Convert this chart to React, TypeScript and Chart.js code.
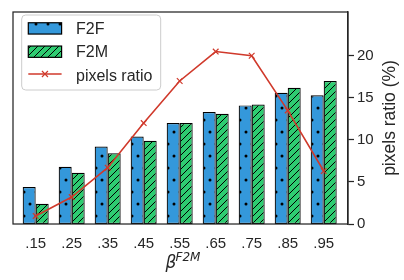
import React, { useEffect, useRef } from 'react';
import { Chart, registerables } from 'chart.js';

Chart.register(...registerables);

const categories = ['.15', '.25', '.35', '.45', '.55', '.65', '.75', '.85', '.95'];
const f2fValues = [4.4, 6.8, 9.2, 10.4, 12.0, 13.3, 14.1, 15.6, 15.3];
const f2mValues = [2.4, 6.1, 8.4, 9.9, 12.0, 13.1, 14.2, 16.2, 17.0];
const pixelsRatio = [0.96, 3.2, 6.7, 12.0, 17.0, 20.5, 20.0, 13.5, 6.3];
const rightTicks = [0, 5, 10, 15, 20];

const BLUE = '#3498db';
const GREEN = '#2ecc71';
const RED = '#d0392b';
const DARK = '#262626';
const FONT = "'Liberation Sans', Arial, sans-serif";
const MATH = "'DejaVu Sans', sans-serif";

function makeDots(ctx: CanvasRenderingContext2D): CanvasPattern {
  const c = document.createElement('canvas');
  c.width = 12;
  c.height = 24;
  const g = c.getContext('2d')!;
  g.fillStyle = BLUE;
  g.fillRect(0, 0, 12, 24);
  g.fillStyle = '#000';
  const pts = [[0, 0], [12, 0], [0, 24], [12, 24], [6, 12]];
  for (const [x, y] of pts) {
    g.beginPath();
    g.arc(x, y, 1.5, 0, Math.PI * 2);
    g.fill();
  }
  return ctx.createPattern(c, 'repeat')!;
}

function makeHatch(ctx: CanvasRenderingContext2D): CanvasPattern {
  const s = 7;
  const c = document.createElement('canvas');
  c.width = s;
  c.height = s;
  const g = c.getContext('2d')!;
  g.fillStyle = GREEN;
  g.fillRect(0, 0, s, s);
  g.strokeStyle = '#000';
  g.lineWidth = 1;
  g.beginPath();
  g.moveTo(-1, s + 1);
  g.lineTo(s + 1, -1);
  g.moveTo(-1, 1);
  g.lineTo(1, -1);
  g.moveTo(s - 1, s + 1);
  g.lineTo(s + 1, s - 1);
  g.stroke();
  return ctx.createPattern(c, 'repeat')!;
}

export default function App() {
  const ref = useRef<HTMLCanvasElement>(null);

  useEffect(() => {
    const canvas = ref.current!;
    const ctx = canvas.getContext('2d')!;
    const dotPat = makeDots(ctx);
    const hatchPat = makeHatch(ctx);

    const decorations = {
      id: 'decorations',
      afterDatasetsDraw(chart: any) {
        const { ctx: c, chartArea: a } = chart;
        c.save();
        c.strokeStyle = DARK;
        c.lineWidth = 1.25;
        c.strokeRect(a.left, a.top, a.right - a.left, a.bottom - a.top);
        c.restore();
      },
      afterDraw(chart: any) {
        const { ctx: c, chartArea: a } = chart;
        c.save();
        // legend box
        const lx = 21.7, ly = 15, lw = 139, lh = 75, r = 4;
        c.beginPath();
        c.moveTo(lx + r, ly);
        c.arcTo(lx + lw, ly, lx + lw, ly + lh, r);
        c.arcTo(lx + lw, ly + lh, lx, ly + lh, r);
        c.arcTo(lx, ly + lh, lx, ly, r);
        c.arcTo(lx, ly, lx + lw, ly, r);
        c.closePath();
        c.fillStyle = 'rgba(255,255,255,0.8)';
        c.fill();
        c.strokeStyle = '#cccccc';
        c.lineWidth = 1;
        c.stroke();
        const sx = 28.3, sw = 33.3, sh = 11.3;
        const rows = [28.4, 51.7, 74];
        // F2F swatch
        c.fillStyle = dotPat;
        c.fillRect(sx, rows[0] - sh / 2, sw, sh);
        c.strokeStyle = '#000';
        c.lineWidth = 1.2;
        c.strokeRect(sx, rows[0] - sh / 2, sw, sh);
        // F2M swatch
        c.fillStyle = hatchPat;
        c.fillRect(sx, rows[1] - sh / 2, sw, sh);
        c.strokeRect(sx, rows[1] - sh / 2, sw, sh);
        // line swatch
        c.strokeStyle = RED;
        c.lineWidth = 1.5;
        c.beginPath();
        c.moveTo(sx, rows[2]);
        c.lineTo(sx + sw, rows[2]);
        c.stroke();
        const mx = sx + sw / 2, m = 3;
        c.lineWidth = 1.2;
        c.beginPath();
        c.moveTo(mx - m, rows[2] - m);
        c.lineTo(mx + m, rows[2] + m);
        c.moveTo(mx - m, rows[2] + m);
        c.lineTo(mx + m, rows[2] - m);
        c.stroke();
        // legend texts
        c.fillStyle = DARK;
        c.font = `16px ${FONT}`;
        c.textAlign = 'left';
        c.textBaseline = 'alphabetic';
        const labels = ['F2F', 'F2M', 'pixels ratio'];
        const baselines = [34.4, 57.4, 80.6];
        labels.forEach((t, i) => c.fillText(t, 76, baselines[i]));
        // right axis title
        c.save();
        c.translate(390, (a.top + a.bottom) / 2);
        c.rotate(-Math.PI / 2);
        c.font = `17.5px ${FONT}`;
        c.textAlign = 'center';
        c.textBaseline = 'middle';
        c.fillText('pixels ratio (%)', 0, 0);
        c.restore();
        // x axis title beta^{F2M}
        c.font = `italic 17px ${MATH}`;
        c.textAlign = 'left';
        c.textBaseline = 'alphabetic';
        c.fillText('\u03b2', 165.5, 268);
        c.font = `italic 12px ${MATH}`;
        c.fillText('F2M', 175.5, 260.5);
        c.restore();
      },
    };

    const chart = new Chart(ctx, {
      type: 'bar',
      data: {
        datasets: [
          {
            type: 'line',
            label: 'pixels ratio',
            data: pixelsRatio.map((y, i) => ({ x: i, y })),
            yAxisID: 'y1',
            borderColor: RED,
            backgroundColor: RED,
            borderWidth: 1.6,
            pointStyle: 'crossRot',
            pointRadius: 4,
            pointBorderWidth: 1.2,
            tension: 0,
            order: 0,
          } as any,
          {
            label: 'F2F',
            data: f2fValues.map((y, i) => ({ x: i, y })),
            backgroundColor: dotPat,
            borderColor: '#000',
            borderWidth: 1.2,
            borderSkipped: false,
            yAxisID: 'y',
            categoryPercentage: 0.722,
            barPercentage: 1,
            order: 1,
          },
          {
            label: 'F2M',
            data: f2mValues.map((y, i) => ({ x: i, y })),
            backgroundColor: hatchPat,
            borderColor: '#000',
            borderWidth: 1.2,
            borderSkipped: false,
            yAxisID: 'y',
            categoryPercentage: 0.722,
            barPercentage: 1,
            order: 1,
          },
        ],
      },
      options: {
        animation: false,
        responsive: false,
        maintainAspectRatio: false,
        layout: { padding: { left: 13, top: 6, right: 0, bottom: 0 } },
        plugins: { legend: { display: false }, tooltip: { enabled: false } },
        scales: {
          x: {
            type: 'linear',
            min: -0.63,
            max: 8.675,
            offset: false,
            grid: { display: false },
            border: { display: false },
            ticks: {
              padding: 3,
              color: DARK,
              font: { family: FONT, size: 15 },
              maxRotation: 0,
              autoSkip: false,
              callback: (v: any) => categories[v] ?? '',
            },
            afterBuildTicks: (axis: any) => {
              axis.ticks = categories.map((_, i) => ({ value: i }));
            },
            afterFit: (axis: any) => {
              axis.height = 56;
            },
          },
          y: { display: false, min: 0, max: 25.2 },
          y1: {
            position: 'right',
            min: 0,
            max: 25.2,
            grid: {
              drawOnChartArea: false,
              drawTicks: true,
              tickLength: 6,
              tickColor: DARK,
              tickWidth: 1.25,
            },
            border: { display: true, color: DARK, width: 1.25 },
            ticks: {
              padding: 3,
              color: DARK,
              font: { family: FONT, size: 15 },
            },
            afterBuildTicks: (axis: any) => {
              axis.ticks = rightTicks.map((v) => ({ value: v }));
            },
            afterFit: (axis: any) => {
              axis.width = 56;
            },
          },
        },
      },
      plugins: [decorations],
    });

    return () => chart.destroy();
  }, []);

  return (
    <div style={{ position: 'absolute', left: 0, top: 0, width: 404, height: 280, background: '#fff' }}>
      <canvas ref={ref} width={404} height={280} style={{ width: 404, height: 280 }} />
    </div>
  );
}
